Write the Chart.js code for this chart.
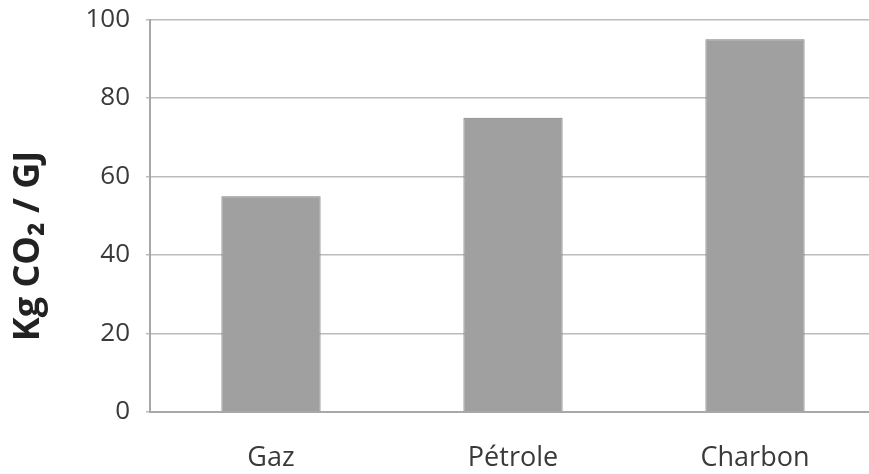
<!DOCTYPE html>
<html>
<head>
<meta charset="utf-8">
<script src="https://cdn.jsdelivr.net/npm/chart.js@4/dist/chart.umd.min.js"></script>
<style>
  html, body { margin: 0; padding: 0; background: #fff; overflow: hidden; }
  #wrap { width: 876px; height: 474px; position: relative; }
</style>
</head>
<body>
<div id="wrap"><canvas id="c" width="876" height="474"></canvas></div>
<script>
// Emissions par source d'énergie (kg de CO2 par GJ)
const categories = ['Gaz', 'Pétrole', 'Charbon'];
const emissions = [55, 75, 95];
const yTicks = [0, 20, 40, 60, 80, 100];
const yTitle = 'Kg CO\u2082 / GJ';

const FONT = '"Open Sans", Lato, sans-serif';

// Rotated bold axis title drawn beside the value labels
const yTitlePlugin = {
  id: 'yTitle',
  afterDraw(chart) {
    const ctx = chart.ctx;
    ctx.save();
    ctx.translate(29, 246);
    ctx.rotate(-Math.PI / 2);
    ctx.font = 'bold 36px ' + FONT;
    ctx.fillStyle = '#222';
    ctx.textAlign = 'center';
    ctx.textBaseline = 'middle';
    ctx.fillText(yTitle, 0, 0);
    ctx.restore();
  }
};

new Chart(document.getElementById('c'), {
  type: 'bar',
  data: {
    labels: categories,
    datasets: [{
      data: emissions,
      backgroundColor: '#a0a0a0',
      borderColor: '#7c7c7c',
      borderWidth: 1,
      barPercentage: 0.41,
      categoryPercentage: 1.0
    }]
  },
  options: {
    responsive: false,
    animation: false,
    layout: { padding: { top: 0, left: 0, right: 0, bottom: 0 } },
    plugins: { legend: { display: false }, tooltip: { enabled: false } },
    scales: {
      x: {
        grid: { display: false },
        border: { display: true, color: '#a8a8a8', width: 2 },
        ticks: { color: '#3a3a3a', font: { family: FONT, size: 27 }, padding: 22 },
        afterFit(scale) { scale.height = 62; }
      },
      y: {
        min: 0,
        max: 100,
        afterBuildTicks(scale) { scale.ticks = yTicks.map(v => ({ value: v })); },
        grid: { color: '#bcbcbc', lineWidth: 1.5, tickLength: 4, drawTicks: true },
        border: { display: true, color: '#a8a8a8', width: 2 },
        ticks: { color: '#3a3a3a', font: { family: FONT, size: 26, lineHeight: 0.27 }, padding: 16 },
        afterFit(scale) { scale.width = 150; }
      }
    }
  },
  plugins: [yTitlePlugin]
});
</script>
</body>
</html>
